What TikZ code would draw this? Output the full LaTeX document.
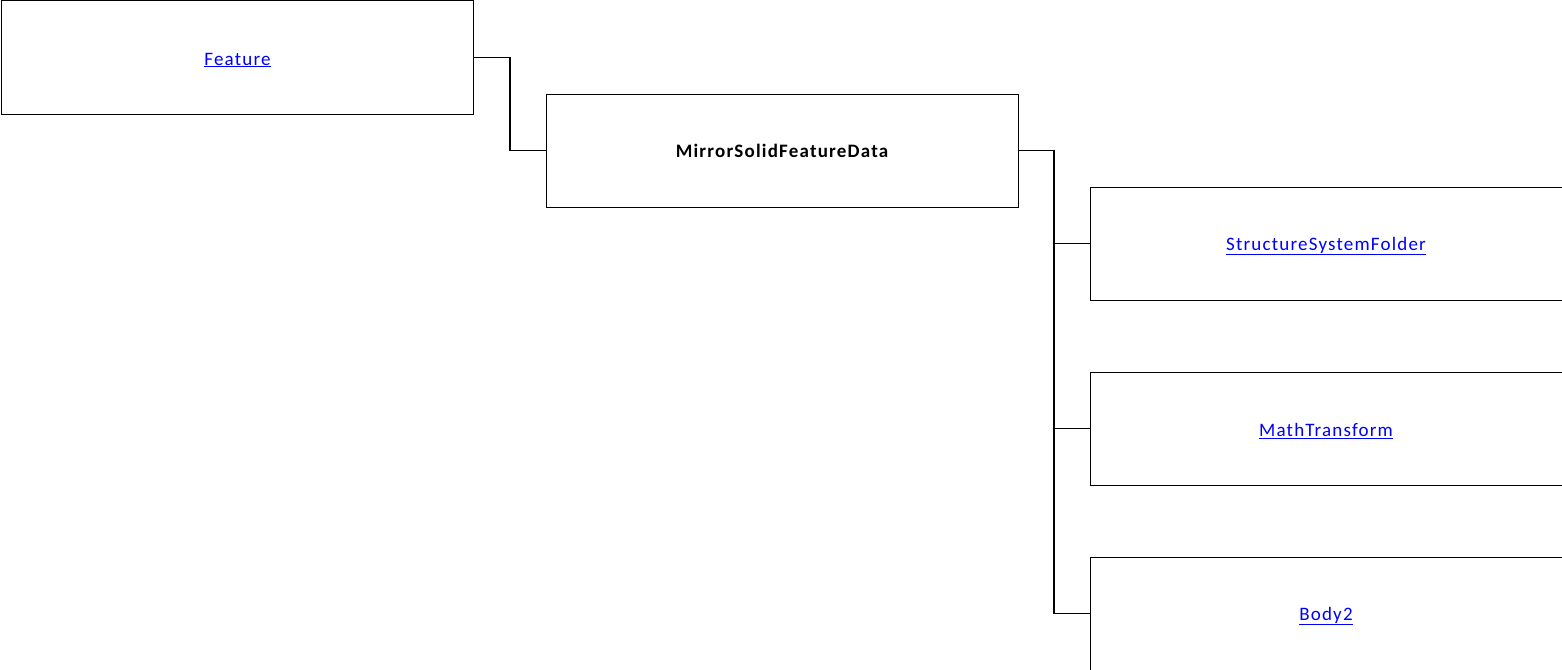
\documentclass[tikz,border=0pt]{standalone}
\usepackage{fontspec}
\setmainfont{Carlito}[LetterSpace=6.3]
\newcommand{\lowtext}[1]{\raisebox{-2.5pt}[\height][\depth]{\underline{#1}}}
\begin{document}
\begin{tikzpicture}[x=1pt,y=-1pt,
  box/.style={draw=black,line width=1pt,rectangle,minimum width=472pt,minimum height=113pt,inner sep=0pt,font=\fontsize{19}{22}\selectfont},
  link/.style={text=blue},
  conn/.style={draw=black,line width=1.6pt}]
\useasboundingbox (0,0) rectangle (1562,669);
\node[box,link] (feature) at (237.5,57.5) {\lowtext{Feature}};
\node[box,font=\fontsize{19}{22}\selectfont\bfseries] (mirror) at (782,150.5) {MirrorSolidFeatureData};
\node[box,link] (ssf) at (1326,243.5) {\lowtext{StructureSystemFolder}};
\node[box,link] (math) at (1326,428.5) {\lowtext{MathTransform}};
\node[box,link] (body) at (1326,613.5) {\lowtext{Body2}};
\coordinate (j1) at (510,57.5);
\coordinate (j2) at (1054,150.5);
\draw[conn] (feature.east) -- (j1) |- (mirror.west);
\draw[conn] (mirror.east) -- (j2) |- (body.west);
\draw[conn] (j2) |- (ssf.west);
\draw[conn] (j2) |- (math.west);
\end{tikzpicture}
\end{document}
